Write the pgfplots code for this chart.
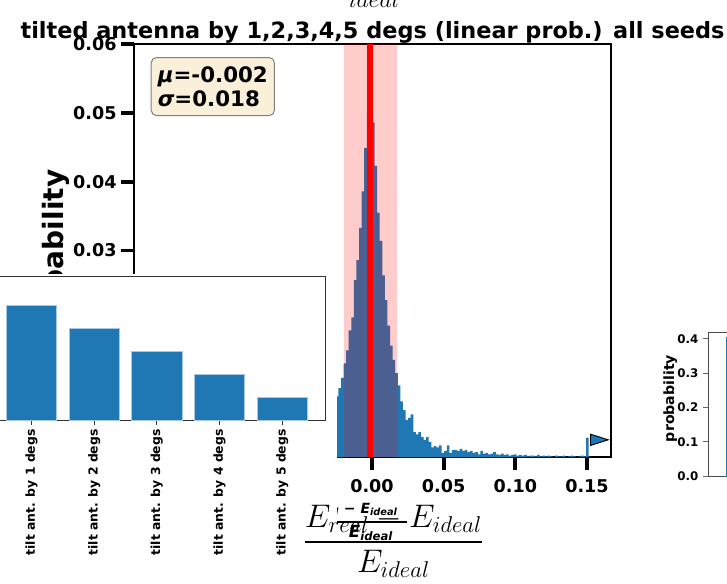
\RequirePackage{fix-cm}
\documentclass[border=0pt]{standalone}
\usepackage[no-math]{fontspec}
\setmainfont{DejaVu Sans}
\usepackage{amsmath}
\usepackage{pgfplots}
\usepackage{pgfplotstable}
\pgfplotsset{compat=1.18}
\definecolor{histblue}{HTML}{1F77B4}
\definecolor{boxfill}{HTML}{FAEFD9}

% left bin edge, probability
\pgfplotstableread{
x y
-0.0270 0.0075
-0.0252 0.0088
-0.0234 0.0100
-0.0216 0.0115
-0.0198 0.0136
-0.0180 0.0155
-0.0162 0.0184
-0.0144 0.0203
-0.0126 0.0257
-0.0108 0.0286
-0.0090 0.0333
-0.0072 0.0386
-0.0054 0.0449
-0.0036 0.0501
-0.0018 0.0506
0.0000 0.0486
0.0018 0.0423
0.0036 0.0355
0.0054 0.0314
0.0072 0.0264
0.0090 0.0228
0.0108 0.0191
0.0126 0.0162
0.0144 0.0141
0.0162 0.0122
0.0180 0.0104
0.0198 0.0081
0.0216 0.0068
0.0234 0.0054
0.0252 0.0057
0.0270 0.0062
0.0288 0.0036
0.0306 0.0033
0.0324 0.0036
0.0342 0.0029
0.0360 0.0025
0.0378 0.0029
0.0396 0.0022
0.0414 0.0014
0.0432 0.0016
0.0450 0.0014
0.0468 0.0017
0.0486 0.0006
0.0504 0.0009
0.0522 0.0017
0.0540 0.0006
0.0558 0.0010
0.0576 0.0010
0.0594 0.0009
0.0612 0.0012
0.0630 0.0009
0.0648 0.0010
0.0666 0.0007
0.0684 0.0009
0.0702 0.0006
0.0720 0.0007
0.0738 0.0004
0.0756 0.0009
0.0774 0.0005
0.0792 0.0006
0.0810 0.0004
0.0828 0.0005
0.0846 0.0007
0.0864 0.0004
0.0882 0.0003
0.0900 0.0005
0.0918 0.0003
0.0936 0.0004
0.0954 0.0002
0.0972 0.0003
0.0990 0.0004
0.1008 0.0002
0.1026 0.0003
0.1044 0.0002
0.1062 0.0003
0.1080 0.0001
0.1098 0.0002
0.1116 0.0002
0.1134 0.0001
0.1152 0.0003
0.1170 0.0001
0.1188 0.0002
0.1206 0.0001
0.1224 0.0002
0.1242 0.0001
0.1260 0.0000
0.1278 0.0002
0.1296 0.0001
0.1314 0.0001
0.1332 0.0002
0.1350 0.0000
0.1368 0.0001
0.1386 0.0002
0.1404 0.0001
0.1422 0.0000
0.1440 0.0001
0.1458 0.0002
0.1476 0.0001
0.1494 0.0028
0.1512 0.0028
}\histdata

\begin{document}
\begin{tikzpicture}[x=0.75pt,y=-0.75pt]

% main histogram
\begin{axis}[
    at={(100.5pt,-342.75pt)}, anchor=south west,
    scale only axis, width=357.75pt, height=309.75pt,
    xmin=-0.1660, xmax=0.16675, ymin=0, ymax=0.06,
    axis line style={black, line width=0.8pt},
    tick align=outside, xtick pos=left, ytick pos=left,
    major tick length=9.5pt,
    tick style={black, line width=2.8pt},
    xtick={0,0.05,0.1,0.15},
    ytick={0,0.01,0.02,0.03,0.04,0.05,0.06},
    scaled ticks=false,
    tick label style={font=\fontsize{13.2}{15}\selectfont\bfseries,
      /pgf/number format/fixed, /pgf/number format/fixed zerofill,
      /pgf/number format/precision=2,
      /pgf/number format/assume math mode=true},
    xticklabel style={yshift=-3.5pt},
  ]
  \addplot[const plot, fill=histblue, draw=none] table {\histdata} \closedcycle;
  \addplot[draw=none, fill=red, fill opacity=0.2]
    coordinates {(-0.0196,0) (-0.0196,0.06) (0.0172,0.06) (0.0172,0)} -- cycle;
  \addplot[red, line width=4.1pt] coordinates {(-0.0014,0) (-0.0014,0.06)};
  \addplot[only marks, mark=triangle*, mark size=8.8pt,
    mark options={fill=histblue, draw=black, line width=0.7pt, rotate=-90, xscale=0.55}]
    coordinates {(0.1566,0.00250)};
\end{axis}

\node[anchor=north west, draw=black!50, line width=0.75pt, fill=boxfill,
  rounded corners=4pt, inner xsep=5pt, inner ysep=7pt, align=left,
  font=\fontsize{16}{17.5}\selectfont\bfseries]
  at (150.7,57) {{\itshape μ}=-0.002\\{\itshape σ}=0.018};

\node[anchor=base, font=\fontsize{16.8}{20}\selectfont\bfseries]
  at (372.5,38) {tilted antenna by 1,2,3,4,5 degs (linear prob.) all seeds};

\node[rotate=90, anchor=base, font=\fontsize{21}{24}\selectfont\bfseries]
  at (63,256) {probability};

% x label of the histogram
\node[anchor=base east, inner sep=0pt, font=\fontsize{10.5}{12}\selectfont\bfseries\itshape]
  at (398,513) {E\textsubscript{real} − E\textsubscript{ideal}};
\draw[line width=0.8pt] (322,522) -- (407,522);
\node[anchor=base, inner sep=0pt, font=\fontsize{12.5}{15}\selectfont\bfseries\itshape]
  at (371,537) {E\textsubscript{ideal}};

% the bar chart that lies over the lower left corner
\fill[white] (-12,274) rectangle (337,600);

\begin{axis}[
    at={(-9.225pt,-315pt)}, anchor=south west,
    scale only axis, width=253.725pt, height=108pt,
    xmin=-0.7, xmax=4.7, ymin=0, ymax=0.42,
    axis line style={black!80, line width=0.75pt},
    xtick={0,1,2,3,4},
    xticklabels={tilt ant. by 1 degs, tilt ant. by 2 degs, tilt ant. by 3 degs,
      tilt ant. by 4 degs, tilt ant. by 5 degs},
    ytick=\empty,
    tick align=outside, xtick pos=left,
    major tick length=3.5pt,
    tick style={black!80, line width=0.75pt},
    xticklabel style={rotate=90, anchor=east, font=\fontsize{9.3}{11}\selectfont\bfseries},
  ]
  \addplot[ybar, bar width=0.8, bar shift=0pt, fill=histblue, draw=histblue!40!white, line width=0.5pt]
    coordinates {(0,0.3333) (1,0.2667) (2,0.2000) (3,0.1333) (4,0.0667)};
\end{axis}

\node[anchor=base] at (393.5,550)
  {\fontsize{24.5}{28}\selectfont$\dfrac{E_{real}-E_{ideal}}{E_{ideal}}$};

% the chart cut off at the right edge
\begin{axis}[
    at={(531pt,-357pt)}, anchor=south west,
    scale only axis, width=150pt, height=108pt,
    xmin=0, xmax=1, ymin=0, ymax=0.42,
    xtick=\empty,
    ytick={0,0.1,0.2,0.3,0.4},
    ytick pos=left, tick align=outside,
    major tick length=3.75pt,
    tick style={black!60, line width=0.75pt},
    axis line style={black!70, line width=0.75pt},
    scaled ticks=false,
    yticklabel style={font=\fontsize{8.9}{10}\selectfont\bfseries,
      /pgf/number format/fixed, /pgf/number format/fixed zerofill,
      /pgf/number format/precision=1,
      /pgf/number format/assume math mode=true},
  ]
  \addplot[const plot, fill=histblue, draw=histblue] coordinates {(0.09,0.404) (0.5,0.404)} \closedcycle;
\end{axis}

\node[rotate=90, anchor=base, font=\fontsize{10.6}{12}\selectfont\bfseries]
  at (674,398.5) {probability};

\node[anchor=base, font=\fontsize{18}{20}\selectfont] at (374,7) {$ideal$};

\pgfresetboundingbox
\path[use as bounding box] (0,0) rectangle (727,583);
\end{tikzpicture}
\end{document}
